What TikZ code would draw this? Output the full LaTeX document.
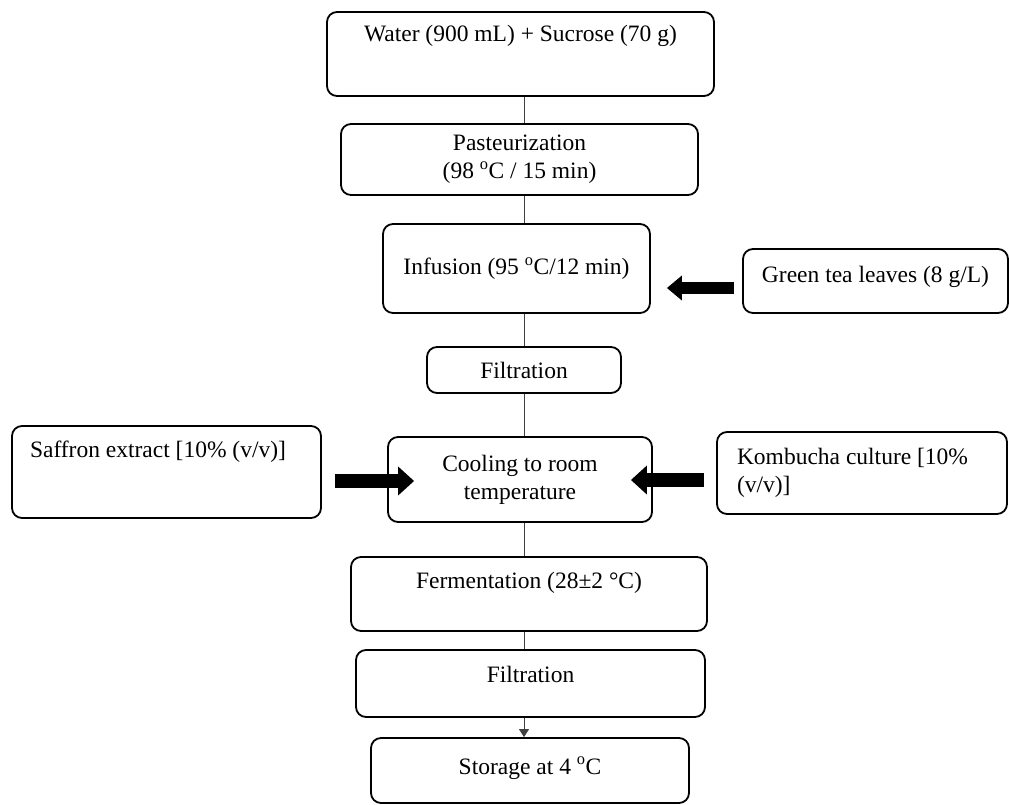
\documentclass[tikz,border=0pt]{standalone}
\usepackage{fontspec}
\setmainfont{Liberation Serif}
\usetikzlibrary{arrows.meta}
\begin{document}
\begin{tikzpicture}[x=1pt,y=-1pt,
		box/.style={draw,rounded corners=10pt,line width=1.8pt,inner sep=0pt,align=center,font=\fontsize{23.5pt}{28pt}\selectfont},
		link/.style={line width=0.8pt,black!75},
		fat/.style={line width=14pt,-{Triangle[length=16pt,width=28pt]}}]
				\useasboundingbox (0,0) rectangle (1009,805);
				\coordinate (axis) at (524,0);
				\node[box,minimum width=387pt,minimum height=84pt,text height=30pt,text depth=54pt] (water) at (520.5,54) {Water (900 mL) + Sucrose (70 g)};
				\node[box,minimum width=357pt,minimum height=71pt] (past) at (519.5,159.5) {Pasteurization\\(98 \textsuperscript{o}C / 15 min)};
				\node[box,minimum width=267pt,minimum height=89pt] (infus) at (516.5,268.5) {Infusion (95 \textsuperscript{o}C/12 min)};
				\node[box,minimum width=265pt,minimum height=64pt,text height=33pt,text depth=31pt] (green) at (875.5,281) {Green tea leaves (8 g/L)};
				\node[box,minimum width=194pt,minimum height=46pt] (filt1) at (524,370) {Filtration};
				\node[box,align=flush left,text width=273pt,inner xsep=18pt,minimum height=92pt,text height=31pt,text depth=61pt] (saffron) at (166.5,472) {Saffron extract [10\% (v/v)]};
				\node[box,minimum width=264pt,minimum height=85pt] (cool) at (520,479.5) {Cooling to room\\temperature};
				\node[box,align=flush left,text width=250pt,inner xsep=20pt,minimum height=82pt] (komb) at (862,473) {Kombucha culture [10\%\\(v/v)]};
				\node[box,minimum width=356pt,minimum height=74pt,text height=31pt,text depth=43pt] (ferm) at (529,594) {Fermentation (28±2 °C)};
				\node[box,minimum width=349pt,minimum height=67pt,text height=32pt,text depth=35pt] (filt2) at (530.5,683.5) {Filtration};
				\node[box,minimum width=318pt,minimum height=65pt,text height=36pt,text depth=29pt] (store) at (530,770.5) {Storage at 4 \textsuperscript{o}C};
				\draw [link] (water.south -| axis) -- (past.north -| axis);
				\draw [link] (past.south -| axis) -- (infus.north -| axis);
				\draw [link] (infus.south -| axis) -- (filt1.north -| axis);
				\draw [link] (filt1.south -| axis) -- (cool.north -| axis);
				\draw [link] (cool.south -| axis) -- (ferm.north -| axis);
				\draw [link] (ferm.south -| axis) -- (filt2.north -| axis);
				\draw [link,-{Triangle[length=8pt,width=10pt]}] (filt2.south -| axis) -- (store.north -| axis);
				\draw [fat,line width=12pt,-{Triangle[length=15pt,width=24pt]}] ([xshift=-8pt,yshift=-7pt]green.west) -- ([xshift=16pt,yshift=-19.5pt]infus.east);
				\draw [fat] ([xshift=13pt,yshift=-9pt]saffron.east) -- ([xshift=27pt,yshift=-1.5pt]cool.west);
				\draw [fat] ([xshift=-12pt,yshift=-7pt]komb.west) -- ([xshift=-22pt,yshift=-0.5pt]cool.east);
			\end{tikzpicture}
\end{document}
